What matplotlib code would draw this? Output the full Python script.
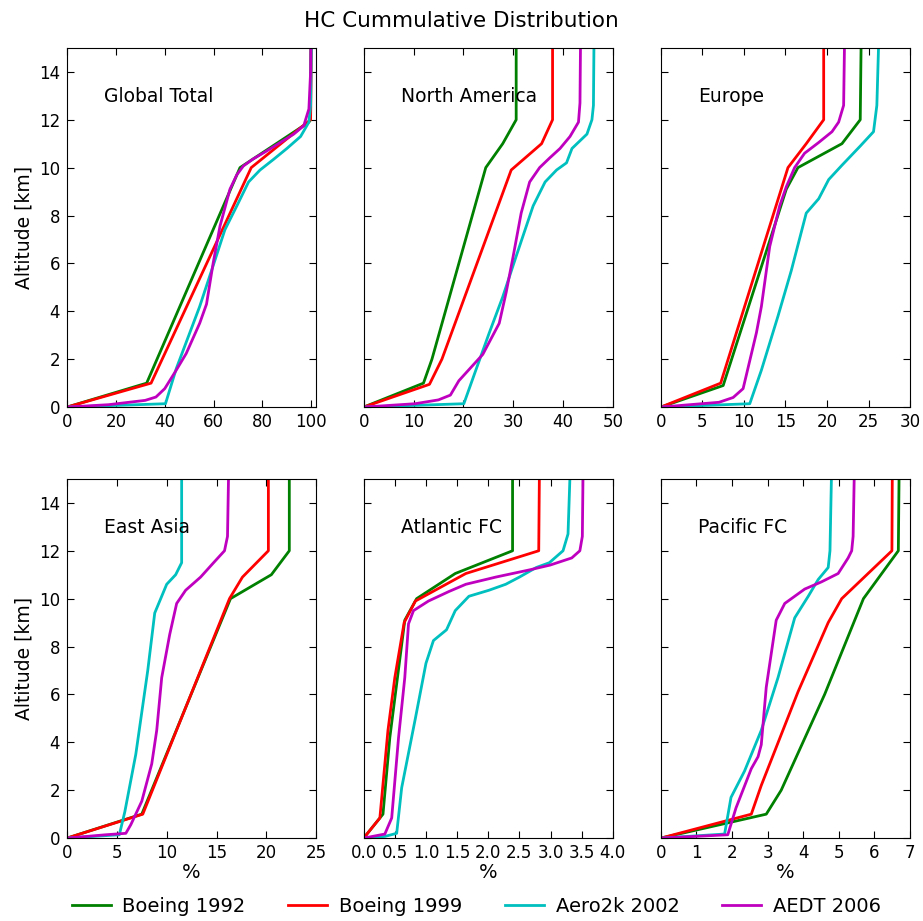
import matplotlib
matplotlib.use('Agg')
import matplotlib.pyplot as plt

# Cumulative HC distribution: (percent, altitude km) points per inventory

# Global Total
global_b92 = [(0, 0), (32.6, 1), (70.8, 10), (99, 11.9), (99.7, 12), (99.8, 15)]
global_b99 = [(0, 0), (34.4, 1), (75.4, 10), (99.7, 12), (100, 15)]
global_a2k = [(0, 0), (40.3, 0.14), (44.7, 1.6), (54.3, 4.2), (59.8, 5.9), (64.6, 7.4),
              (69.5, 8.4), (74.3, 9.4), (79, 9.9), (84.6, 10.35), (90, 10.8),
              (95.6, 11.3), (99, 11.9), (99.7, 12.6), (100, 15)]
global_aedt = [(0, 0), (17, 0.1), (32, 0.28), (36.4, 0.42), (40, 0.77), (44.7, 1.54),
               (48.8, 2.24), (54.3, 3.5), (57.1, 4.3), (59.8, 6.0), (62.6, 7.55),
               (66.7, 9.1), (69.5, 9.7), (72.2, 10.07), (76, 10.35), (81.8, 10.7),
               (87.3, 11.05), (92.8, 11.4), (96.9, 11.75), (99, 12.45), (99.7, 14),
               (99.8, 15)]

# North America
na_b92 = [(0, 0), (12, 1), (13.7, 2), (24.5, 10), (27.9, 11), (30.6, 12), (30.6, 15)]
na_b99 = [(0, 0), (13.2, 0.95), (15.7, 2), (29.6, 9.9), (35.7, 11), (37.9, 12), (37.9, 15)]
na_a2k = [(0, 0), (20.1, 0.14), (22.5, 1.54), (25.2, 3.1), (27.9, 4.6), (30.6, 6.3),
          (34, 8.4), (36.4, 9.4), (38.7, 9.9), (40.7, 10.2), (41.8, 10.8),
          (44.8, 11.4), (45.8, 12), (46.1, 12.6), (46.2, 15)]
na_aedt = [(0, 0), (10.3, 0.14), (15, 0.3), (17.4, 0.5), (19.1, 1.1), (23.9, 2.2),
           (27.2, 3.5), (28.6, 4.8), (30, 6.3), (31.6, 8.1), (33.3, 9.4), (35.3, 10),
           (37.3, 10.4), (39.4, 10.8), (41.4, 11.3), (43.1, 11.9), (43.4, 12.7),
           (43.5, 15)]

# Europe
eu_b92 = [(0, 0), (7.5, 0.9), (15.1, 9.1), (16.5, 10), (21.8, 11), (24, 12), (24.1, 15)]
eu_b99 = [(0, 0), (7.2, 1), (15.3, 10), (17.5, 11), (19.6, 12), (19.6, 15)]
eu_a2k = [(0, 0), (10.7, 0.14), (12.1, 1.54), (14.1, 3.8), (15.7, 5.7), (17.5, 8.1),
          (19, 8.7), (20.2, 9.5), (21.8, 10.1), (24, 10.9), (25.6, 11.5), (26, 12.6),
          (26.2, 15)]
eu_aedt = [(0, 0), (7, 0.2), (8.7, 0.4), (9.9, 0.77), (11.5, 3.1), (12.1, 4.2),
           (13.1, 6.7), (14.3, 8.4), (15.1, 9.2), (16.1, 10), (17.3, 10.6), (19, 11.05),
           (20.6, 11.5), (21.4, 11.9), (22, 12.6), (22.1, 15)]

# East Asia
ea_b92 = [(0, 0), (7.5, 1), (16.4, 10), (20.5, 11), (22.3, 12), (22.3, 15)]
ea_b99 = [(0, 0), (7.6, 1), (16.3, 10), (17.6, 10.9), (20.2, 12), (20.2, 15)]
ea_a2k = [(0, 0), (5.25, 0.14), (5.8, 1.1), (6.9, 3.5), (8.1, 7), (8.8, 9.4),
          (9.3, 9.9), (10, 10.6), (10.9, 11), (11.5, 11.5), (11.5, 15)]
ea_aedt = [(0, 0), (3.9, 0.14), (5.9, 0.2), (6.4, 0.56), (7.5, 1.54), (8.5, 3.1),
           (9, 4.5), (9.5, 6.7), (10.3, 8.5), (11, 9.8), (11.9, 10.35), (13.4, 10.9),
           (14.7, 11.5), (15.8, 12), (16.1, 12.6), (16.2, 15)]

# Atlantic flight corridor
atl_b92 = [(0, 0), (0.31, 1), (0.42, 4.2), (0.66, 9.1), (0.85, 10), (1.47, 11.05),
           (2.39, 12), (2.39, 15)]
atl_b99 = [(0, 0), (0.26, 0.84), (0.39, 4.5), (0.5, 6.7), (0.65, 9), (0.83, 9.9),
           (1.64, 11.05), (2.81, 12), (2.82, 15)]
atl_a2k = [(0, 0), (0.34, 0.07), (0.53, 0.2), (0.61, 2.1), (0.83, 5), (1.0, 7.3),
           (1.12, 8.25), (1.33, 8.7), (1.47, 9.5), (1.69, 10.1), (2.01, 10.35),
           (2.28, 10.6), (2.5, 10.9), (2.77, 11.3), (2.98, 11.5), (3.2, 12),
           (3.28, 12.7), (3.31, 15)]
atl_aedt = [(0, 0), (0.34, 0.17), (0.45, 0.84), (0.56, 4.2), (0.66, 6.7), (0.72, 8.95),
            (0.8, 9.5), (1.04, 9.9), (1.37, 10.3), (1.64, 10.6), (2.12, 10.9),
            (2.66, 11.2), (2.99, 11.4), (3.34, 11.7), (3.47, 12), (3.51, 12.6),
            (3.52, 15)]

# Pacific flight corridor
pac_b92 = [(0, 0), (2.96, 1), (3.38, 2), (4.6, 6), (5.69, 10), (6.67, 12), (6.69, 15)]
pac_b99 = [(0, 0), (2.54, 1), (2.82, 2.2), (3.85, 6.1), (4.7, 9), (5.08, 10),
           (6.49, 12), (6.5, 15)]
pac_a2k = [(0, 0), (1.79, 0.17), (1.97, 1.7), (2.35, 2.8), (2.82, 4.5), (3.29, 6.7),
           (3.76, 9.2), (4.14, 10.1), (4.42, 10.8), (4.7, 11.3), (4.75, 12), (4.79, 15)]
pac_aedt = [(0, 0), (1.88, 0.14), (2.11, 1.26), (2.54, 2.9), (2.73, 3.4), (2.82, 3.9),
            (2.96, 6.3), (3.24, 9.1), (3.48, 9.8), (3.76, 10.1), (4.04, 10.4),
            (4.51, 10.7), (4.98, 11.05), (5.26, 11.7), (5.36, 12), (5.4, 12.6),
            (5.43, 15)]

labels = ['Boeing 1992', 'Boeing 1999', 'Aero2k 2002', 'AEDT 2006']
colors = ['g', 'r', 'c', 'm']

regions = ['Global Total', 'North America', 'Europe',
           'East Asia', 'Atlantic FC', 'Pacific FC']
region_data = [
    [global_b92, global_b99, global_a2k, global_aedt],
    [na_b92, na_b99, na_a2k, na_aedt],
    [eu_b92, eu_b99, eu_a2k, eu_aedt],
    [ea_b92, ea_b99, ea_a2k, ea_aedt],
    [atl_b92, atl_b99, atl_a2k, atl_aedt],
    [pac_b92, pac_b99, pac_a2k, pac_aedt],
]
xmax = [102, 50, 30, 25, 4, 7]
xstep = [20, 10, 5, 5, 0.5, 1]

plt.rcParams['font.family'] = 'DejaVu Sans'
plt.rcParams['xtick.direction'] = 'in'
plt.rcParams['ytick.direction'] = 'in'
plt.rcParams['xtick.top'] = True
plt.rcParams['ytick.right'] = True
plt.rcParams['xtick.major.size'] = 5
plt.rcParams['ytick.major.size'] = 5
plt.rcParams['xtick.major.pad'] = 4
plt.rcParams['ytick.major.pad'] = 5

fig = plt.figure(figsize=(9.23, 9.21), dpi=100)

lefts = [0.0726, 0.394, 0.716]
bottoms = [0.558, 0.090]
width = 0.270
height = 0.390

for i in range(6):
    row, col = divmod(i, 3)
    ax = fig.add_axes([lefts[col], bottoms[row], width, height])
    for pts, c, lab in zip(region_data[i], colors, labels):
        xs = [p[0] for p in pts]
        ys = [p[1] for p in pts]
        ax.plot(xs, ys, color=c, lw=2, label=lab)
    ax.set_xlim(0, xmax[i])
    ax.set_ylim(0, 15)
    ticks = [k * xstep[i] for k in range(int(round(xmax[i] / xstep[i])) + 1)]
    ax.set_xticks(ticks)
    if xstep[i] < 1:
        ax.set_xticklabels(['%.1f' % t for t in ticks])
    else:
        ax.set_xticklabels(['%d' % t for t in ticks])
    ax.set_yticks(range(0, 15, 2))
    ax.tick_params(labelsize=12)
    ax.text(0.15, 0.865, regions[i], transform=ax.transAxes, fontsize=13.5,
            va='center')
    if col == 0:
        ax.set_ylabel('Altitude [km]', fontsize=13.5)
    else:
        ax.set_yticklabels([])
    if row == 1:
        ax.set_xlabel('%', fontsize=14, labelpad=1)
    if i == 0:
        handles, hlabels = ax.get_legend_handles_labels()

fig.suptitle('HC Cummulative Distribution', fontsize=15.5, y=0.988)
fig.legend(handles, hlabels, loc='center', bbox_to_anchor=(0.516, 0.016), ncol=4,
           frameon=False, fontsize=14, handlelength=2.0, handletextpad=0.6,
           columnspacing=2.2)

fig.savefig('out.png', dpi=100, facecolor='white')
